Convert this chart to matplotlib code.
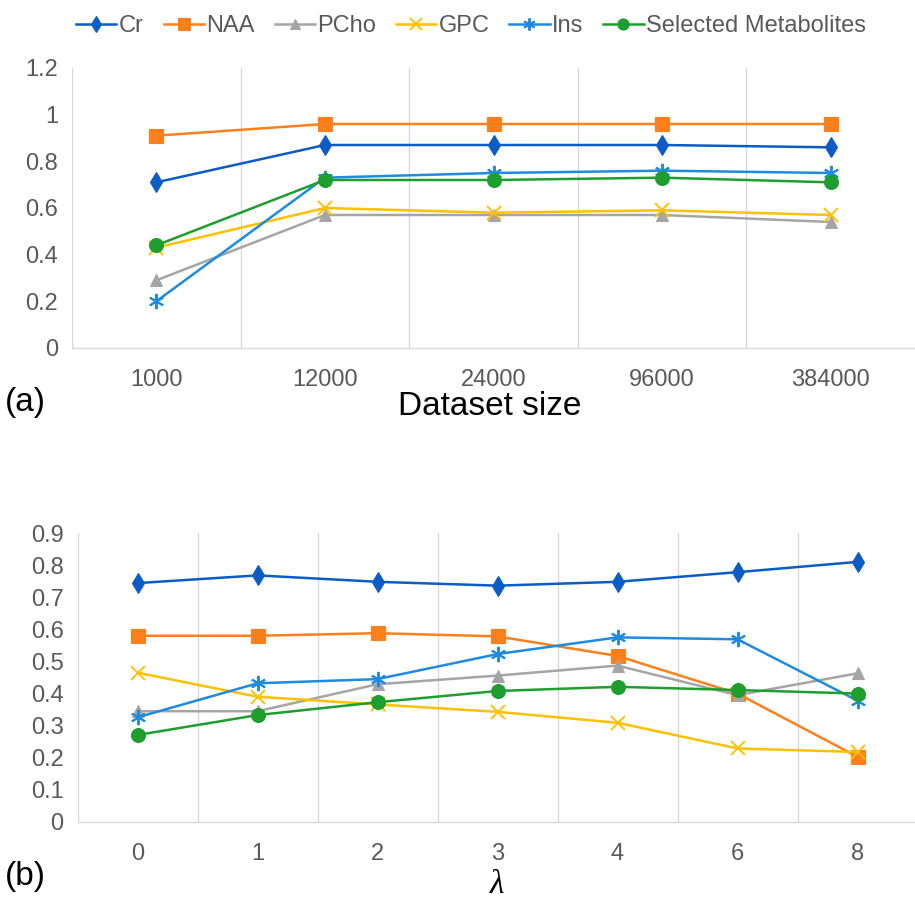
import matplotlib
matplotlib.use("Agg")
import matplotlib.pyplot as plt
from matplotlib.ticker import MultipleLocator, FixedLocator

plt.rcParams['font.family'] = ['Liberation Sans', 'DejaVu Sans']

# (a) accuracy vs dataset size
sizes = ["1000", "12000", "24000", "96000", "384000"]
cr_a = [0.71, 0.87, 0.87, 0.87, 0.86]
naa_a = [0.91, 0.96, 0.96, 0.96, 0.96]
pcho_a = [0.29, 0.57, 0.57, 0.57, 0.54]
gpc_a = [0.43, 0.60, 0.58, 0.59, 0.57]
ins_a = [0.20, 0.73, 0.75, 0.76, 0.75]
sel_a = [0.44, 0.72, 0.72, 0.73, 0.71]

# (b) accuracy vs lambda
lambdas = ["0", "1", "2", "3", "4", "6", "8"]
cr_b = [0.744, 0.768, 0.748, 0.736, 0.748, 0.778, 0.81]
naa_b = [0.58, 0.58, 0.588, 0.578, 0.517, 0.40, 0.203]
pcho_b = [0.345, 0.345, 0.429, 0.456, 0.487, 0.395, 0.463]
gpc_b = [0.465, 0.39, 0.366, 0.343, 0.309, 0.229, 0.218]
ins_b = [0.326, 0.432, 0.445, 0.523, 0.575, 0.569, 0.378]
sel_b = [0.271, 0.333, 0.373, 0.408, 0.421, 0.411, 0.40]

names = ["Cr", "NAA", "PCho", "GPC", "Ins", "Selected Metabolites"]
colors = ["#0B5CC4", "#FF7F1A", "#A5A5A5", "#FFC000", "#1E8BE0", "#1E9E2E"]
markers = ["d", "s", "^", "x", (6, 2, 0), "o"]
msizes = [10, 10, 9, 10, 11, 10]

grey_txt = "#595959"
grid_col = "#D9D9D9"

fig = plt.figure(figsize=(9.15, 9.02), dpi=100)
ax1 = fig.add_axes([72 / 915, 1 - 348 / 902, 843 / 915, 280 / 902])
ax2 = fig.add_axes([77.5 / 915, 1 - 822 / 902, 840 / 915, 289 / 902])


def draw(ax, cats, series, ymax, ystep):
    x = list(range(len(cats)))
    handles = []
    for vals, name, c, m, ms in zip(series, names, colors, markers, msizes):
        thin = m == "x" or isinstance(m, tuple)
        h, = ax.plot(x, vals, color=c, lw=1.8, marker=m, markersize=ms,
                     markeredgewidth=1.4 if thin else 0.8,
                     label=name, zorder=3)
        handles.append(h)
    ax.set_xlim(-0.5, len(cats) - 0.5)
    ax.set_ylim(0, ymax)
    ax.set_xticks(x)
    ax.set_xticklabels(cats)
    ax.xaxis.set_minor_locator(FixedLocator([i - 0.5 for i in range(len(cats))]))
    ax.grid(True, which="minor", axis="x", color=grid_col, lw=1.0)
    ax.yaxis.set_major_locator(MultipleLocator(ystep))
    ax.yaxis.set_major_formatter(plt.FuncFormatter(lambda v, p: "%g" % round(v, 2)))
    for s in ("top", "right", "left"):
        ax.spines[s].set_visible(False)
    ax.spines["bottom"].set_color(grid_col)
    ax.spines["bottom"].set_linewidth(1.0)
    ax.tick_params(axis="both", which="both", length=0, labelsize=17, colors=grey_txt)
    ax.tick_params(axis="x", pad=15)
    ax.tick_params(axis="y", pad=10)
    return handles


handles = draw(ax1, sizes, [cr_a, naa_a, pcho_a, gpc_a, ins_a, sel_a], 1.2, 0.2)
draw(ax2, lambdas, [cr_b, naa_b, pcho_b, gpc_b, ins_b, sel_b], 0.9, 0.1)

fig.text(490 / 915, 1 - 407 / 902, "Dataset size", fontsize=24, ha="center", va="center", color="black")
fig.text(5 / 915, 1 - 403 / 902, "(a)", fontsize=24, ha="left", va="center", color="black")
fig.text(5 / 915, 1 - 876 / 902, "(b)", fontsize=24, ha="left", va="center", color="black")
fig.text(497 / 915, 1 - 885 / 902, "λ", fontsize=24, ha="center", va="center", color="black",
         family=["Liberation Serif", "DejaVu Serif"], style="italic")

fig.legend(handles=handles, loc="center", bbox_to_anchor=(471 / 915, 1 - 26 / 902), ncol=6,
           frameon=False, fontsize=17, handlelength=1.7, handletextpad=0.1,
           columnspacing=0.85, labelcolor=grey_txt, markerscale=0.8)

fig.savefig("out.png", dpi=100)
